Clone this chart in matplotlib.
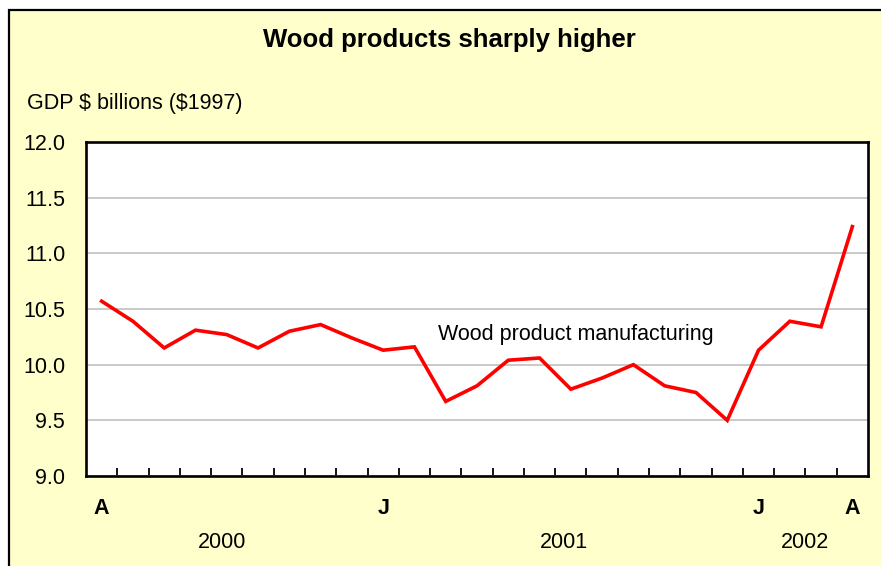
import numpy as np
import matplotlib.pyplot as plt
from matplotlib.patches import Rectangle
from matplotlib.transforms import blended_transform_factory

plt.rcParams['font.family'] = ['Liberation Sans', 'DejaVu Sans']
plt.rcParams['text.parse_math'] = False

# monthly GDP, April 2000 .. April 2002
gdp_values = [10.57, 10.39, 10.15, 10.31, 10.27, 10.15, 10.30, 10.36, 10.24,
              10.13, 10.16, 9.67, 9.81, 10.04, 10.06, 9.78, 9.88, 10.00,
              9.81, 9.75, 9.50, 10.13, 10.39, 10.34, 11.24]
month_labels = ['A', '', '', '', '', '', '', '', '', 'J', '', '', '', '', '',
                '', '', '', '', '', '', 'J', '', '', 'A']
year_labels = ['2000', '2001', '2002']
year_positions = [3.86, 14.77, 22.5]
y_ticks = [9.0, 9.5, 10.0, 10.5, 11.0, 11.5, 12.0]

fig = plt.figure(figsize=(8.81, 5.66), dpi=100)
fig.patch.set_facecolor('white')

# yellow panel with black frame (runs off the right and bottom edges)
panel = Rectangle((9/881, -0.05), 1.05, 1.05 - 10/566, transform=fig.transFigure,
                  facecolor='#FFFFCC', edgecolor='black', linewidth=1.6,
                  clip_on=False, zorder=-5)
fig.patches.append(panel)

ax = fig.add_axes([86/881, 90/566, 782/881, 334/566])
ax.set_facecolor('white')

x = np.arange(len(gdp_values))
ax.plot(x, gdp_values, color='#FF0000', linewidth=2.6, solid_joinstyle='miter', zorder=3)

ax.set_xlim(-0.5, len(gdp_values) - 0.5)
ax.set_ylim(9.0, 12.0)
ax.set_yticks(y_ticks)
ax.set_yticklabels([f'{v:.1f}' for v in y_ticks], fontsize=15.5)
ax.yaxis.grid(True, color='#C0C0C0', linewidth=1.2)
ax.set_axisbelow(True)
ax.tick_params(axis='y', length=0, pad=15)

# ticks sit between months, pointing into the plot
ax.set_xticks(np.arange(0.5, len(gdp_values) - 1, 1.0))
ax.set_xticklabels([])
ax.tick_params(axis='x', direction='in', length=6, width=1.3, color='black')

for side in ['left', 'right', 'top', 'bottom']:
    ax.spines[side].set_linewidth(1.9)
    ax.spines[side].set_color('black')

trans = blended_transform_factory(ax.transData, fig.transFigure)
for i, lab in enumerate(month_labels):
    if lab:
        ax.text(i, 1 - 508/566, lab, transform=trans, ha='center', va='center',
                fontsize=15.5, fontweight='bold', clip_on=False)
for pos, lab in zip(year_positions, year_labels):
    ax.text(pos, 1 - 543/566, lab, transform=trans, ha='center', va='center',
            fontsize=15.5, clip_on=False)

ax.text(10.75, 10.275, 'Wood product manufacturing', ha='left', va='center',
        fontsize=15.5)

fig.text(449/881, 1 - 40/566, 'Wood products sharply higher', ha='center',
         va='center', fontsize=18.5, fontweight='bold')
fig.text(27/881, 1 - 103/566, 'GDP $ billions ($1997)', ha='left', va='center',
         fontsize=15.5)

fig.savefig('out.png', dpi=100, facecolor=fig.get_facecolor())
